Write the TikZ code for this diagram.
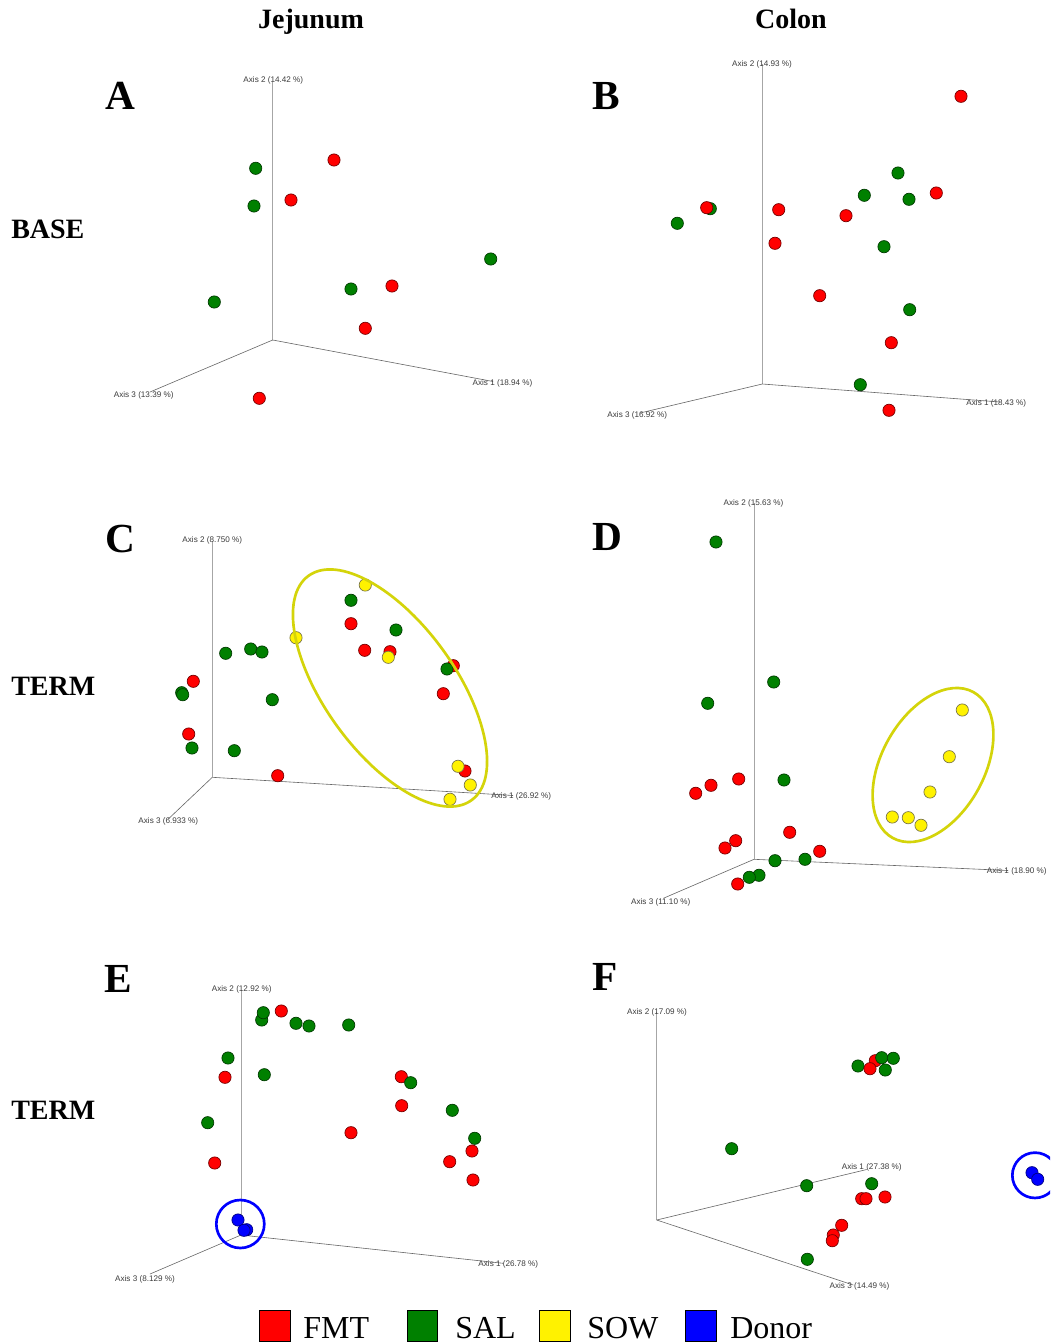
\documentclass[tikz,border=0pt]{standalone}
\usepackage{fontspec}
\setmainfont{Liberation Serif}
\newfontfamily\axfont{Liberation Sans}
\definecolor{ringyel}{RGB}{212,212,10}
\definecolor{dgreen}{RGB}{0,128,0}
\definecolor{axtxt}{RGB}{60,60,60}
\tikzset{
  dot/.style={circle, line width=0.5pt, minimum size=9.2pt, inner sep=0pt},
  fmt/.style={dot, fill=red, draw=red!45!black},
  sal/.style={dot, fill=dgreen, draw=dgreen!45!black},
  sow/.style={dot, fill=yellow, draw=yellow!40!black},
  donor/.style={dot, fill=blue, draw=blue!50!black},
  axv/.style={draw=black!35, line width=0.5pt},
  axo/.style={draw=black!60, line width=0.45pt},
  axlab/.style={font=\axfont\fontsize{6.1pt}{7pt}\selectfont, text=axtxt, inner sep=0pt},
  coltitle/.style={font=\fontsize{21pt}{24pt}\selectfont\bfseries, anchor=base, inner sep=0pt},
  rowlab/.style={font=\fontsize{21pt}{24pt}\selectfont\bfseries, anchor=base west, inner sep=0pt},
  panlab/.style={font=\fontsize{31pt}{34pt}\selectfont\bfseries, anchor=base, inner sep=0pt},
  yring/.style={draw=ringyel, line width=2pt},
  bring/.style={draw=blue, line width=2pt},
  legsq/.style={draw=black, line width=0.8pt, minimum size=23pt, inner sep=0pt},
  legtxt/.style={font=\fontsize{24pt}{28pt}\selectfont, anchor=base west, inner sep=0pt}
}
\begin{document}
\begin{tikzpicture}[x=0.75pt,y=-0.75pt]
\useasboundingbox (0,0) rectangle (1050,1344);
\fill[white] (0,0) rectangle (1050,1344);
\clip (0,0) rectangle (1050,1344);

% titles
\node[coltitle] (tj) at (311,29) {Jejunum};
\node[coltitle] (tc) at (791,29) {Colon};
\node[rowlab] (rb) at (11,238.5) {BASE};
\node[rowlab] (rt1) at (11,695.5) {TERM};
\node[rowlab] (rt2) at (11,1119.5) {TERM};
\node[panlab] (pA) at (120,110) {A};
\node[panlab] (pB) at (606,109.5) {B};
\node[panlab] (pC) at (120,552) {C};
\node[panlab] (pD) at (607,550) {D};
\node[panlab] (pE) at (118.5,992) {E};
\node[panlab] (pF) at (605,990) {F};

% ---------- Panel A ----------
\coordinate (Ao) at (272.7,340);
\coordinate (A2e) at (272.7,82);
\coordinate (A1e) at (493,381.5);
\coordinate (A3e) at (150,392);
\draw[axv] (Ao) -- (A2e);
\draw[axo] (Ao) -- (A1e);
\draw[axo] (Ao) -- (A3e);
\node[axlab] (A2l) at (273.3,80) {Axis 2 (14.42 \%)};
\node[axlab] (A1l) at (502.5,383.5) {Axis 1 (18.94 \%)};
\node[axlab] (A3l) at (143.7,395.7) {Axis 3 (13.39 \%)};
\node[sal] (a1) at (255.7,168.3) {};
\node[sal] (a2) at (254,206) {};
\node[fmt] (a3) at (334,160) {};
\node[fmt] (a4) at (291,200) {};
\node[sal] (a5) at (490.7,259) {};
\node[sal] (a6) at (214.3,302) {};
\node[sal] (a7) at (351,289) {};
\node[fmt] (a8) at (392,286) {};
\node[fmt] (a9) at (365.3,328.3) {};
\node[fmt] (a10) at (259.3,398.3) {};

% ---------- Panel B ----------
\coordinate (Bo) at (762.3,384);
\coordinate (B2e) at (762.3,64);
\coordinate (B1e) at (1000,402);
\coordinate (B3e) at (640,413);
\draw[axv] (Bo) -- (B2e);
\draw[axo] (Bo) -- (B1e);
\draw[axo] (Bo) -- (B3e);
\node[axlab] (B2l) at (762,64.7) {Axis 2 (14.93 \%)};
\node[axlab] (B1l) at (996.3,403.3) {Axis 1 (18.43 \%)};
\node[axlab] (B3l) at (637.3,415) {Axis 3 (16.92 \%)};
\node[fmt] (b1) at (961,96.3) {};
\node[sal] (b2) at (898,173) {};
\node[fmt] (b3) at (936.3,193) {};
\node[sal] (b4) at (864.3,195.3) {};
\node[sal] (b5) at (909,199.3) {};
\node[sal] (b6) at (710.3,208.7) {};
\node[fmt] (b7) at (706.7,207.7) {};
\node[sal] (b8) at (677.3,223.3) {};
\node[fmt] (b9) at (778.7,209.7) {};
\node[fmt] (b10) at (846,215.7) {};
\node[fmt] (b11) at (775,243.3) {};
\node[sal] (b12) at (884,246.7) {};
\node[fmt] (b13) at (819.7,295.7) {};
\node[sal] (b14) at (909.7,309.7) {};
\node[fmt] (b15) at (891.3,342.7) {};
\node[sal] (b16) at (860.3,384.7) {};
\node[fmt] (b17) at (889,410.3) {};

% ---------- Panel C ----------
\coordinate (Co) at (212.3,777.3);
\coordinate (C2e) at (212.3,541);
\coordinate (C1e) at (513,795.5);
\coordinate (C3e) at (168.3,819);
\draw[axv] (Co) -- (C2e);
\draw[axo] (Co) -- (C1e);
\draw[axo] (Co) -- (C3e);
\node[axlab] (C2l) at (212.3,540) {Axis 2 (8.750 \%)};
\node[axlab] (C1l) at (521.3,796) {Axis 1 (26.92 \%)};
\node[axlab] (C3l) at (168.3,821) {Axis 3 (6.933 \%)};
\node[sal] (c1) at (351,600.3) {};
\node[fmt] (c2) at (351,623.7) {};
\node[sal] (c3) at (396,630) {};
\node[fmt] (c4) at (364.7,650.3) {};
\node[fmt] (c5) at (390,651.7) {};
\node[sow] (c6) at (388.3,657.3) {};
\node[sal] (c7) at (225.7,653.3) {};
\node[sal] (c8) at (250.7,649) {};
\node[sal] (c9) at (262,652) {};
\node[fmt] (c10) at (453.3,665.7) {};
\node[sal] (c11) at (447,669) {};
\node[fmt] (c12) at (443.3,693.7) {};
\node[fmt] (c13) at (193.3,681.3) {};
\node[sal] (c14) at (181.7,692.7) {};
\node[sal] (c15) at (182.7,694.7) {};
\node[sal] (c16) at (272.3,699.7) {};
\node[fmt] (c17) at (188.7,734) {};
\node[sal] (c18) at (192,748) {};
\node[sal] (c19) at (234.3,750.7) {};
\node[fmt] (c20) at (277.7,775.7) {};
\node[fmt] (c21) at (465,771) {};
\node[sow] (c22) at (458,766.3) {};
\node[sow] (c23) at (470.3,785) {};
\node[sow] (c24) at (450,799.3) {};
\node[sow] (c25) at (365.3,585) {};
\node[sow] (c26) at (296,637.7) {};
\draw[yring, rotate around={-54:(390,688)}] (390,688) ellipse [x radius=104pt, y radius=48.9pt];

% ---------- Panel D ----------
\coordinate (Do) at (754,859.3);
\coordinate (D2e) at (754,503);
\coordinate (D1e) at (1008,870.5);
\coordinate (D3e) at (663.3,898.3);
\draw[axv] (Do) -- (D2e);
\draw[axo] (Do) -- (D1e);
\draw[axo] (Do) -- (D3e);
\node[axlab] (D2l) at (753.5,503) {Axis 2 (15.63 \%)};
\node[axlab] (D1l) at (1016.7,871) {Axis 1 (18.90 \%)};
\node[axlab] (D3l) at (660.7,902) {Axis 3 (11.10 \%)};
\node[sal] (d1) at (716,542) {};
\node[sal] (d2) at (773.7,682) {};
\node[sal] (d3) at (707.7,703.3) {};
\node[fmt] (d4) at (738.7,779) {};
\node[sal] (d5) at (784,780) {};
\node[fmt] (d6) at (711,785.3) {};
\node[fmt] (d7) at (695.7,793.3) {};
\node[fmt] (d8) at (789.7,832.3) {};
\node[fmt] (d9) at (735.7,840.7) {};
\node[fmt] (d10) at (725,848) {};
\node[fmt] (d11) at (819.7,851.3) {};
\node[sal] (d12) at (775,860.7) {};
\node[sal] (d13) at (805,859.3) {};
\node[sal] (d14) at (759,875.3) {};
\node[sal] (d15) at (749.3,877.3) {};
\node[fmt] (d16) at (737.7,884) {};
\node[sow] (d17) at (962.3,710) {};
\node[sow] (d18) at (949.3,756.7) {};
\node[sow] (d19) at (930,792) {};
\node[sow] (d20) at (892.3,817) {};
\node[sow] (d21) at (908.3,817.7) {};
\node[sow] (d22) at (921,825.3) {};
\draw[yring, rotate around={61:(933,765)}] (933,765) ellipse [x radius=62.5pt, y radius=38.5pt];

% ---------- Panel E ----------
\coordinate (Eo) at (241,1235);
\coordinate (E2e) at (241,990);
\coordinate (E1e) at (503.3,1263.3);
\coordinate (E3e) at (150,1274);
\draw[axv] (Eo) -- (E2e);
\draw[axo] (Eo) -- (E1e);
\draw[axo] (Eo) -- (E3e);
\node[axlab] (E2l) at (241.7,989) {Axis 2 (12.92 \%)};
\node[axlab] (E1l) at (508.3,1264) {Axis 1 (26.78 \%)};
\node[axlab] (E3l) at (145,1279) {Axis 3 (8.129 \%)};
\node[sal] (e1) at (261.7,1020) {};
\node[sal] (e2) at (263.3,1012.7) {};
\node[fmt] (e3) at (281.3,1011) {};
\node[sal] (e4) at (296,1023.3) {};
\node[sal] (e5) at (309,1026) {};
\node[sal] (e6) at (348.7,1025) {};
\node[sal] (e7) at (228,1058) {};
\node[fmt] (e8) at (225,1077.3) {};
\node[sal] (e9) at (264.3,1074.7) {};
\node[fmt] (e10) at (401.3,1076.7) {};
\node[sal] (e11) at (410.7,1082.7) {};
\node[fmt] (e12) at (401.7,1105.7) {};
\node[sal] (e13) at (452.3,1110.3) {};
\node[sal] (e14) at (207.7,1122.7) {};
\node[fmt] (e15) at (351,1132.7) {};
\node[sal] (e16) at (474.7,1138.3) {};
\node[fmt] (e17) at (472,1151) {};
\node[fmt] (e18) at (449.7,1161.7) {};
\node[fmt] (e19) at (214.7,1163) {};
\node[fmt] (e20) at (473,1180) {};
\node[donor] (e21) at (238,1220) {};
\node[donor] (e22) at (246.7,1229.7) {};
\node[donor] (e23) at (244,1230.3) {};
\draw[bring] (240.3,1224) circle [radius=18pt];

% ---------- Panel F ----------
\coordinate (Fo) at (656.7,1220);
\coordinate (F2e) at (656.7,1012);
\coordinate (F1e) at (866.7,1169.5);
\coordinate (F3e) at (853.3,1285);
\draw[axv] (Fo) -- (F2e);
\draw[axo] (Fo) -- (F1e);
\draw[axo] (Fo) -- (F3e);
\node[axlab] (F2l) at (657,1012) {Axis 2 (17.09 \%)};
\node[axlab] (F1l) at (871.7,1167.3) {Axis 1 (27.38 \%)};
\node[axlab] (F3l) at (859.5,1286) {Axis 3 (14.49 \%)};
\node[fmt] (f1) at (875.3,1060.7) {};
\node[sal] (f2) at (881.7,1057.7) {};
\node[sal] (f3) at (893.3,1058.3) {};
\node[sal] (f4) at (858,1066) {};
\node[fmt] (f5) at (870,1068.7) {};
\node[sal] (f6) at (885.3,1070) {};
\node[sal] (f7) at (731.7,1148.7) {};
\node[sal] (f8) at (806.7,1185.7) {};
\node[sal] (f9) at (871.7,1183.7) {};
\node[fmt] (f10) at (861.7,1198.7) {};
\node[fmt] (f11) at (866,1198.7) {};
\node[fmt] (f12) at (885,1197) {};
\node[fmt] (f13) at (841.7,1225.3) {};
\node[fmt] (f14) at (833.3,1235) {};
\node[fmt] (f15) at (832.3,1240.7) {};
\node[sal] (f16) at (807.3,1259.3) {};
\node[donor] (f17) at (1032,1172.7) {};
\node[donor] (f18) at (1037.7,1179.3) {};
\draw[bring] (1035,1175.3) circle [radius=17pt];

% ---------- Legend ----------
\node[legsq, fill=red] (lq1) at (275,1326) {};
\node[legtxt] (lt1) at (303,1338.5) {FMT};
\node[legsq, fill=dgreen] (lq2) at (422.5,1326) {};
\node[legtxt] (lt2) at (455,1338.5) {SAL};
\node[legsq, fill=yellow] (lq3) at (555,1326) {};
\node[legtxt] (lt3) at (587,1338.5) {SOW};
\node[legsq, fill=blue] (lq4) at (701,1326) {};
\node[legtxt] (lt4) at (730,1338.5) {Donor};
\end{tikzpicture}
\end{document}
